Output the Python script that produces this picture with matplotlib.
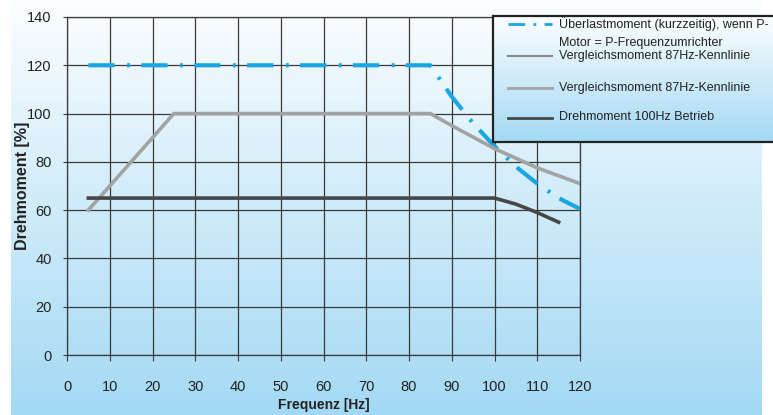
import numpy as np
import matplotlib
matplotlib.use('Agg')
import matplotlib.pyplot as plt

# data
freq_ueber = [5, 85, 90, 95, 100, 105, 110, 115, 120]
ueber = [120, 120, 107, 96, 86.5, 78, 71, 65, 60.5]

freq_87 = [5, 25, 85, 90, 100, 110, 120]
moment_87 = [60, 100, 100, 95, 85.5, 77.5, 71]

freq_100 = [5, 100, 105, 110, 115]
moment_100 = [65, 65, 62.5, 59, 55]

labels = ['Überlastmoment (kurzzeitig), wenn P-\nMotor = P-Frequenzumrichter',
          'Vergleichsmoment 87Hz-Kennlinie',
          'Vergleichsmoment 87Hz-Kennlinie',
          'Drehmoment 100Hz Betrieb']

plt.rcParams['font.family'] = ['Liberation Sans', 'DejaVu Sans']

blue = '#17a7e4'
gray_dark = '#8a8a8a'
gray_light = '#a3a3a3'
dark = '#474747'

W, H = 773, 415
fig = plt.figure(figsize=(W / 100, H / 100), dpi=100, facecolor='white')

# gradient background
top = np.array([252, 254, 255]) / 255
bot = np.array([163, 217, 244]) / 255
t = np.linspace(0, 1, 256)[:, None]
grad = (top[None, :] * (1 - t) + bot[None, :] * t)[:, None, :]

bg = fig.add_axes([11 / W, 0, (762 - 11) / W, 1], zorder=-10)
bg.imshow(grad, aspect='auto', extent=[0, 1, 0, 1])
bg.axis('off')

# main axes
ax = fig.add_axes([67 / W, 1 - 355 / H, (580 - 67) / W, (355 - 17) / H])
ax.set_facecolor('none')
ax.plot(freq_ueber, ueber, color=blue, lw=3.0, dashes=(6.3, 3.0, 0.7, 2.7))
ax.plot(freq_87, moment_87, color=gray_dark, lw=1.5)
ax.plot(freq_87, moment_87, color=gray_light, lw=2.6)
ax.plot(freq_100, moment_100, color=dark, lw=2.6)

ax.set_xlim(0, 120)
ax.set_ylim(0, 140)
ax.set_xticks(range(0, 121, 10))
ax.set_yticks(range(0, 141, 20))
ax.grid(True, color='#3a3a3a', lw=0.9)
for s in ax.spines.values():
    s.set_color('#3a3a3a')
    s.set_linewidth(0.9)
ax.tick_params(axis='x', length=4, pad=14, labelsize=10.5, color='#3a3a3a', labelcolor='#222222')
ax.tick_params(axis='y', length=3, pad=8, labelsize=10.5, color='#3a3a3a', labelcolor='#222222')
ax.set_xlabel('Frequenz [Hz]', fontsize=10, fontweight='bold', color='#222222', labelpad=3)
ax.set_ylabel('Drehmoment [%]', fontsize=11.5, fontweight='bold', color='#222222', labelpad=-2)

# legend box with its own gradient
lx0, lx1, ly0, ly1 = 493, 800, 16, 142
lax = fig.add_axes([lx0 / W, 1 - ly1 / H, (lx1 - lx0) / W, (ly1 - ly0) / H], zorder=5)
lax.imshow(grad, aspect='auto', extent=[lx0, lx1, ly1, ly0])
lax.set_xlim(lx0, lx1)
lax.set_ylim(ly1, ly0)
lax.set_xticks([])
lax.set_yticks([])
for s in lax.spines.values():
    s.set_color('#222222')
    s.set_linewidth(1.6)

leg_styles = [dict(color=blue, lw=2.0, dashes=(6, 3, 1, 3)),
              dict(color=gray_dark, lw=1.5),
              dict(color=gray_light, lw=2.0),
              dict(color=dark, lw=2.0)]
leg_rows = [24, 56, 88, 118]
for lab, st, yy in zip(labels, leg_styles, leg_rows):
    lax.plot([508, 552], [yy, yy], **st)
    lax.text(559, yy - 6.5, lab, fontsize=9, color='#222222', va='top', ha='left',
             linespacing=1.6)

fig.savefig('out.png', dpi=100)
